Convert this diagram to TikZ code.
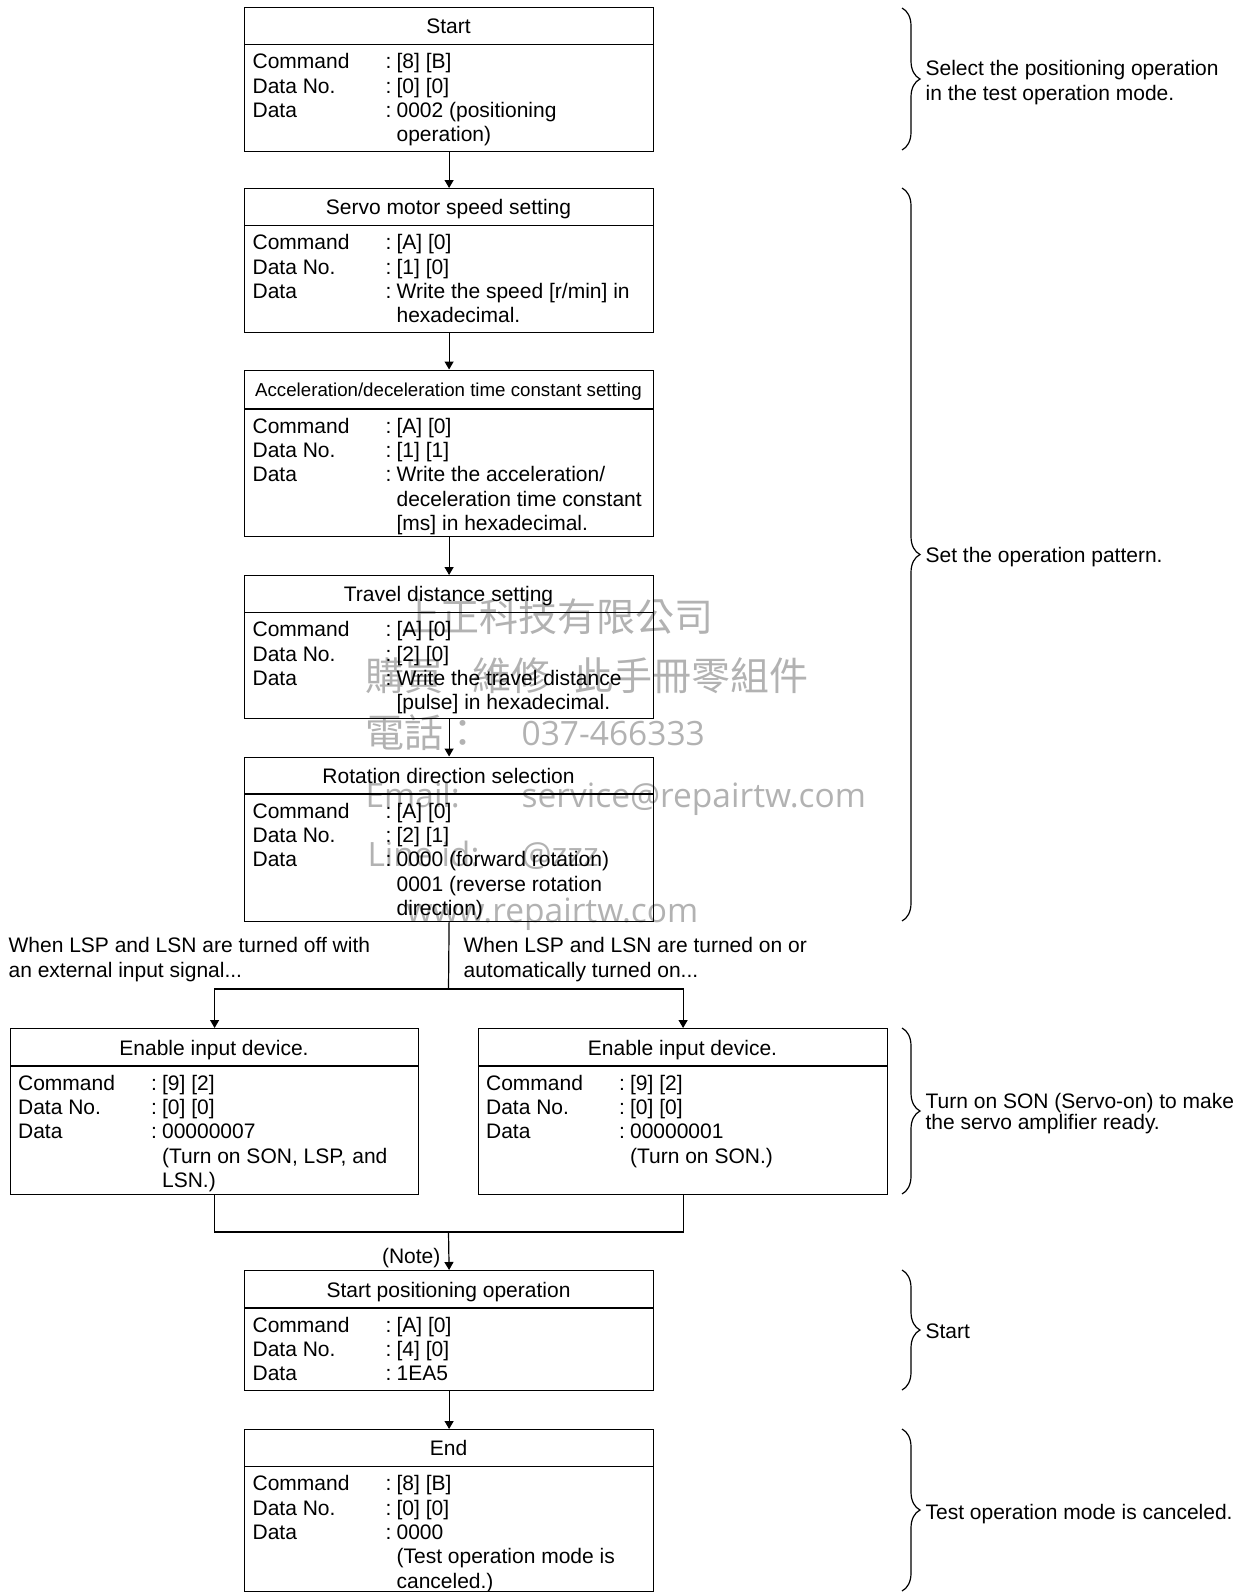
\documentclass[tikz,border=0pt]{standalone}
\usepackage{fontspec}
\setmainfont{Liberation Sans}
\newfontfamily\wmcjk{Noto Sans CJK TC}
\newfontfamily\wmlat{Open Sans}
\usetikzlibrary{arrows.meta,decorations.pathreplacing}
\tikzset{
  flowbox/.style={draw, inner sep=0pt, anchor=north west},
  arr/.style={-{Triangle[length=8pt,width=9pt]}},
  ttl/.style={inner sep=0pt, anchor=base, font=\fontsize{21}{24.4}\selectfont},
  smallttl/.style={inner sep=0pt, anchor=base, font=\fontsize{18.7}{22}\selectfont},
  body/.style={inner sep=0pt, anchor=north west, font=\fontsize{21}{24.4}\selectfont},
  plain/.style={inner sep=0pt, anchor=base west, font=\fontsize{21}{24.4}\selectfont},
  brc/.style={decorate, decoration={brace, amplitude=18pt}},
  wmc/.style={inner sep=0pt, anchor=base west, text=black!30, font=\wmcjk\fontsize{39}{39}\selectfont},
  wml/.style={inner sep=0pt, anchor=base west, text=black!30, font=\wmlat\fontsize{33.5}{33.5}\selectfont},
}
\newcommand\bodytab[1]{\begin{tabular}{@{}p{133pt}@{}p{11pt}@{}l@{}}#1\end{tabular}}
\begin{document}
\begin{tikzpicture}[x=1pt,y=-1pt,line width=1.2pt]
\useasboundingbox (0,0) rectangle (1252,1592);

% ---------- watermark ----------
\node[wmc] (wm1) at (401,631) {上正科技有限公司};
\node[wmc] (wm2a) at (365,690) {購買};
\node[wmc] (wm2b) at (472,690) {維修};
\node[wmc,anchor=base east] (wm2c) at (809,690) {此手冊零組件};
\node[wmc] (wm3a) at (365,747) {電話：};
\node[wml] (wm3b) at (521,745) {037-466333};
\node[wml] (wm4a) at (365,807) {Email:};
\node[wml] (wm4b) at (521,807) {service@repairtw.com};
\node[wml] (wm5a) at (367,866) {Line id:};
\node[wml] (wm5b) at (521,866) {@zzz};
\node[wml] (wm6) at (406,922) {www.repairtw.com};

% ---------- Box 1 ----------
\node[flowbox, minimum width=409pt, minimum height=143.5pt] (b1) at (244,7) {};
\draw (b1.west |- 0,44.5) -- (b1.east |- 0,44.5);
\node[ttl] (b1t) at (448.5,33.5) {Start};
\node[body] (b1c) at (252,51) {\bodytab{Command & : & [8] [B]\\ Data No. & : & [0] [0]\\ Data & : & 0002 (positioning\\ & & operation)}};

% ---------- Box 2 ----------
\node[flowbox, minimum width=409pt, minimum height=144pt] (b2) at (244,188) {};
\draw (b2.west |- 0,225.5) -- (b2.east |- 0,225.5);
\node[ttl] (b2t) at (448.5,214.5) {Servo motor speed setting};
\node[body] (b2c) at (252,232) {\bodytab{Command & : & [A] [0]\\ Data No. & : & [1] [0]\\ Data & : & Write the speed [r/min] in\\ & & hexadecimal.}};

% ---------- Box 3 ----------
\node[flowbox, minimum width=409pt, minimum height=166.5pt] (b3) at (244,369.5) {};
\draw (b3.west |- 0,409) -- (b3.east |- 0,409);
\node[smallttl] (b3t) at (448.5,396) {Acceleration/deceleration time constant setting};
\node[body] (b3c) at (252,415.5) {\bodytab{Command & : & [A] [0]\\ Data No. & : & [1] [1]\\ Data & : & Write the acceleration/\\ & & deceleration time constant\\ & & [ms] in hexadecimal.}};

% ---------- Box 4 ----------
\node[flowbox, minimum width=409pt, minimum height=143pt] (b4) at (244,575) {};
\draw (b4.west |- 0,612.5) -- (b4.east |- 0,612.5);
\node[ttl] (b4t) at (448.5,601.5) {Travel distance setting};
\node[body] (b4c) at (252,619) {\bodytab{Command & : & [A] [0]\\ Data No. & : & [2] [0]\\ Data & : & Write the travel distance\\ & & [pulse] in hexadecimal.}};

% ---------- Box 5 ----------
\node[flowbox, minimum width=409pt, minimum height=164.5pt] (b5) at (244,756.5) {};
\draw (b5.west |- 0,794) -- (b5.east |- 0,794);
\node[ttl] (b5t) at (448.5,783) {Rotation direction selection};
\node[body] (b5c) at (252,800.5) {\bodytab{Command & : & [A] [0]\\ Data No. & : & [2] [1]\\ Data & : & 0000 (forward rotation)\\ & & 0001 (reverse rotation\\ & & direction)}};

% ---------- branch texts ----------
\node[plain] (bl1) at (8,952.5) {When LSP and LSN are turned off with};
\node[plain] (bl2) at (8,977) {an external input signal...};
\node[plain] (br1) at (463,952.5) {When LSP and LSN are turned on or};
\node[plain] (br2) at (463,977) {automatically turned on...};

% ---------- Left box ----------
\node[flowbox, minimum width=408pt, minimum height=166pt] (bl) at (10,1028) {};
\draw (bl.west |- 0,1066) -- (bl.east |- 0,1066);
\node[ttl] (blt) at (214,1055) {Enable input device.};
\node[body] (blc) at (17.5,1072.5) {\bodytab{Command & : & [9] [2]\\ Data No. & : & [0] [0]\\ Data & : & 00000007\\ & & (Turn on SON, LSP, and\\ & & LSN.)}};

% ---------- Right box ----------
\node[flowbox, minimum width=409pt, minimum height=166pt] (brx) at (478,1028) {};
\draw (brx.west |- 0,1066) -- (brx.east |- 0,1066);
\node[ttl] (brt) at (682.5,1055) {Enable input device.};
\node[body] (brc) at (485.5,1072.5) {\bodytab{Command & : & [9] [2]\\ Data No. & : & [0] [0]\\ Data & : & 00000001\\ & & (Turn on SON.)}};

% ---------- Box 6 ----------
\node[flowbox, minimum width=409pt, minimum height=120pt] (b6) at (244,1270) {};
\draw (b6.west |- 0,1308) -- (b6.east |- 0,1308);
\node[ttl] (b6t) at (448.5,1297) {Start positioning operation};
\node[body] (b6c) at (252,1314.5) {\bodytab{Command & : & [A] [0]\\ Data No. & : & [4] [0]\\ Data & : & 1EA5}};

% ---------- Box 7 ----------
\node[flowbox, minimum width=409pt, minimum height=162pt] (b7) at (244,1429) {};
\draw (b7.west |- 0,1466.5) -- (b7.east |- 0,1466.5);
\node[ttl] (b7t) at (448.5,1455.5) {End};
\node[body] (b7c) at (252,1473) {\bodytab{Command & : & [8] [B]\\ Data No. & : & [0] [0]\\ Data & : & 0000\\ & & (Test operation mode is\\ & & canceled.)}};

% ---------- connectors ----------
\draw[arr] (b1.south) -- (b2.north);
\draw[arr] (b2.south) -- (b3.north);
\draw[arr] (b3.south) -- (b4.north);
\draw[arr] (b4.south) -- (b5.north);
\coordinate (split) at (448.5,989);
\draw (b5.south) -- (split);
\draw[arr] (split) -| (bl.north);
\draw[arr] (split) -| (brx.north);
\coordinate (join) at (448.5,1232);
\draw (bl.south) |- (join);
\draw (brx.south) |- (join);
\draw[arr] (join) -- (b6.north);
\node[plain, anchor=base east] (note) at (441,1263) {(Note)};
\draw[arr] (b6.south) -- (b7.north);

% ---------- braces ----------
\coordinate (k1a) at (902,8);    \coordinate (k1b) at (902,150);
\coordinate (k2a) at (902,188);  \coordinate (k2b) at (902,921);
\coordinate (k3a) at (902,1028); \coordinate (k3b) at (902,1194);
\coordinate (k4a) at (902,1270); \coordinate (k4b) at (902,1390);
\coordinate (k5a) at (902,1429); \coordinate (k5b) at (902,1591);
\draw[brc] (k1a) -- (k1b);
\draw[brc] (k2a) -- (k2b);
\draw[brc] (k3a) -- (k3b);
\draw[brc] (k4a) -- (k4b);
\draw[brc] (k5a) -- (k5b);
\node[plain] (s1a) at (925,76) {Select the positioning operation};
\node[plain] (s1b) at (925,100.5) {in the test operation mode.};
\node[plain] (s2) at (925,562.5) {Set the operation pattern.};
\node[plain] (s3a) at (925,1108) {Turn on SON (Servo-on) to make};
\node[plain] (s3b) at (925,1129) {the servo amplifier ready.};
\node[plain] (s4) at (925,1338.5) {Start};
\node[plain] (s5) at (925,1519) {Test operation mode is canceled.};
\end{tikzpicture}
\end{document}
